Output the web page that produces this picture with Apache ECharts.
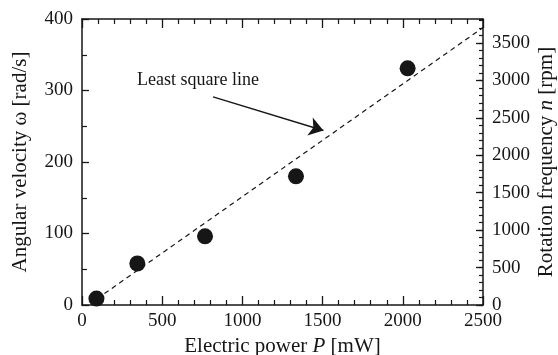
<!DOCTYPE html>
<html>
<head>
<meta charset="utf-8">
<script src="https://cdn.jsdelivr.net/npm/echarts@6/dist/echarts.min.js"></script>
<style>html,body{margin:0;padding:0;background:#fff}#c{width:558px;height:355px}</style>
</head>
<body>
<div id="c"></div>
<script>
// Data
var powerMW = [90, 345, 767, 1334, 2030];
var omegaRad = [9, 58, 96, 180, 331];
var fitLine = [[140, 16], [2500, 388]];      // least-square line endpoints (P, omega)
var arrowFrom = [817, 291], arrowTo = [1505, 244];
var xTicks = [0, 500, 1000, 1500, 2000, 2500];
var yTicks = [0, 100, 200, 300, 400];
var rpmTicks = [0, 500, 1000, 1500, 2000, 2500, 3000, 3500];
var rpmMax = 400 * 60 / (2 * Math.PI);

var FONT = 'Liberation Serif';
var INK = '#161616';
var pts = powerMW.map(function (p, i) { return [p, omegaRad[i]]; });

var axisLine = { show: true, onZero: false, lineStyle: { color: INK, width: 1.5 } };
var plain = function (v) { return String(v); };
var chart = echarts.init(document.getElementById('c'), null, { renderer: 'canvas' });
chart.setOption({
  animation: false,
  backgroundColor: '#fff',
  grid: { left: 82, right: 75, top: 19, bottom: 50, containLabel: false, outerBoundsMode: 'none' },
  xAxis: [{
    type: 'value', min: xTicks[0], max: xTicks[xTicks.length - 1], interval: 500, position: 'bottom',
    axisLine: axisLine,
    axisTick: { inside: true, length: 9, lineStyle: { color: INK, width: 1.3 } },
    minorTick: { show: true, splitNumber: 5, length: 5, lineStyle: { color: INK, width: 1.2 } },
    splitLine: { show: false },
    axisLabel: { color: INK, fontFamily: FONT, fontSize: 19, margin: 7, formatter: plain },
    name: 'Electric power {i|P} [mW]', nameLocation: 'middle', nameGap: 31, nameMoveOverlap: false,
    nameTextStyle: { color: INK, fontFamily: FONT, fontSize: 21,
      rich: { i: { fontStyle: 'italic', fontFamily: FONT, fontSize: 21, color: INK } } }
  }, {
    type: 'value', min: 0, max: 2500, interval: 500, position: 'top',
    axisLine: axisLine,
    axisTick: { inside: true, length: 9, lineStyle: { color: INK, width: 1.3 } },
    minorTick: { show: true, splitNumber: 5, length: 5, lineStyle: { color: INK, width: 1.2 } },
    splitLine: { show: false }, axisLabel: { show: false }
  }],
  yAxis: [{
    type: 'value', min: yTicks[0], max: yTicks[yTicks.length - 1], interval: 100, position: 'left',
    axisLine: axisLine,
    axisTick: { inside: true, length: 7, lineStyle: { color: INK, width: 1.3 } },
    minorTick: { show: true, splitNumber: 2, length: 5, lineStyle: { color: INK, width: 1.2 } },
    splitLine: { show: false },
    axisLabel: { color: INK, fontFamily: FONT, fontSize: 19, margin: 9, formatter: plain },
    name: 'Angular velocity ω [rad/s]', nameLocation: 'middle', nameGap: 51, nameRotate: 90, nameMoveOverlap: false,
    nameTextStyle: { color: INK, fontFamily: FONT, fontSize: 21 }
  }, {
    type: 'value', min: 0, max: rpmMax, interval: 500, position: 'right', offset: 0,
    axisLine: axisLine,
    axisTick: { inside: true, length: 7, lineStyle: { color: INK, width: 1.3 } },
    splitLine: { show: false },
    axisLabel: { color: INK, fontFamily: FONT, fontSize: 19, margin: 9, showMaxLabel: false,
      formatter: function (v) { return rpmTicks.indexOf(v) >= 0 ? String(v) : ''; } },
    name: 'Rotation frequency {i|n} [rpm]', nameLocation: 'middle', nameGap: 53, nameRotate: 90, nameMoveOverlap: false,
    nameTextStyle: { color: INK, fontFamily: FONT, fontSize: 21,
      rich: { i: { fontStyle: 'italic', fontFamily: FONT, fontSize: 21, color: INK } } }
  }, {
    type: 'value', min: 0, max: rpmMax, interval: 100, position: 'right', offset: 0,
    axisLine: { show: false, onZero: false },
    axisTick: { inside: true, length: 4, lineStyle: { color: INK, width: 1.2 } },
    splitLine: { show: false }, axisLabel: { show: false }
  }],
  graphic: [{
    type: 'text', left: 137, top: 71,
    style: { text: 'Least square line', font: '18px "Liberation Serif"', fill: INK }
  }],
  series: [{
    type: 'line', data: fitLine, xAxisIndex: 0, yAxisIndex: 0,
    showSymbol: false, symbol: 'none',
    lineStyle: { color: INK, width: 1.2, type: [5, 4] },
    markLine: {
      silent: true, symbol: ['none', 'arrow'], symbolSize: 14,
      lineStyle: { color: INK, width: 1.4, type: 'solid' },
      label: { show: false },
      data: [[{ coord: arrowFrom }, { coord: arrowTo }]]
    },
    z: 2
  }, {
    type: 'scatter', data: pts, xAxisIndex: 0, yAxisIndex: 0,
    symbol: 'circle', symbolSize: 16,
    itemStyle: { color: INK, opacity: 1 },
    z: 3
  }]
});
</script>
</body>
</html>
